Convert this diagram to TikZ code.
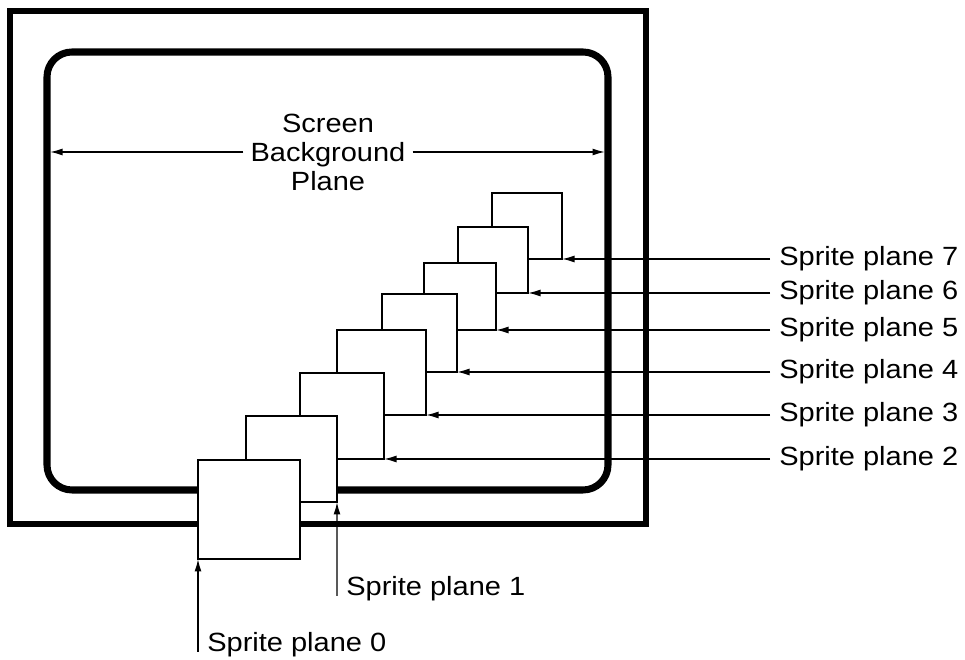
\documentclass[tikz,border=0pt]{standalone}
\usepackage{fontspec}
\setmainfont{Liberation Sans}[FakeStretch=1.1]
\usetikzlibrary{arrows.meta,positioning,calc}

\begin{document}
\begin{tikzpicture}[
    frame/.style={line width=3.4pt},
    screen/.style={line width=4pt, rounded corners=0.5cm},
    sprite/.style={draw, fill=white, line width=1.1pt, inner sep=0pt, outer sep=0pt},
    pointer/.style={line width=0.85pt, -{Latex[length=0.25cm,width=0.14cm]}},
    lbl/.style={font=\fontsize{15}{16.5}\selectfont, inner sep=0.18cm}
  ]
  \useasboundingbox (0,0) rectangle (19.3,13.2);
  % TV cabinet and screen edge
  \draw[frame] (0.2,2.72) rectangle (12.92,12.98);
  \draw[screen] (0.94,3.4) rectangle (12.16,12.16);
  \coordinate (scrL) at (1.0,10.16);
  \coordinate (scrR) at (12.1,10.16);
  % Background plane spans the whole screen
  \node[lbl, align=center, inner sep=0.14cm] (bg) at (6.56,10.16) {Screen\\Background\\Plane};
  \draw[pointer] (bg.west) -- (scrL);
  \draw[pointer] (bg.east) -- (scrR);
  % Sprite planes, back (7) to front (0)
  \foreach \i/\x/\y/\w/\h in {7/9.84/8.02/1.40/1.32, 6/9.16/7.34/1.40/1.32,
      5/8.48/6.60/1.44/1.34, 4/7.64/5.76/1.50/1.56, 3/6.74/4.90/1.78/1.70,
      2/6.00/4.02/1.68/1.72, 1/4.92/3.16/1.82/1.72, 0/3.96/2.02/2.04/1.98} {
    \node[sprite, anchor=south west, minimum width=\w cm, minimum height=\h cm] (s\i) at (\x,\y) {};
  }
  % Labels on the right
  \foreach \i/\y in {7/8.02, 6/7.34, 5/6.60, 4/5.76, 3/4.90, 2/4.02} {
    \node[lbl, anchor=west] (l\i) at (15.4,\y) {Sprite plane \i};
    \draw[pointer] (l\i) -- (s\i.south east);
  }
  % Labels below
  \node[lbl, anchor=base west] (l1) at (6.74,1.28) {Sprite plane 1};
  \draw[pointer] (l1.base west) -- (s1.south east);
  \node[lbl, anchor=base west] (l0) at (3.96,0.16) {Sprite plane 0};
  \draw[pointer] (l0.base west) -- (s0.south west);
\end{tikzpicture}
\end{document}
